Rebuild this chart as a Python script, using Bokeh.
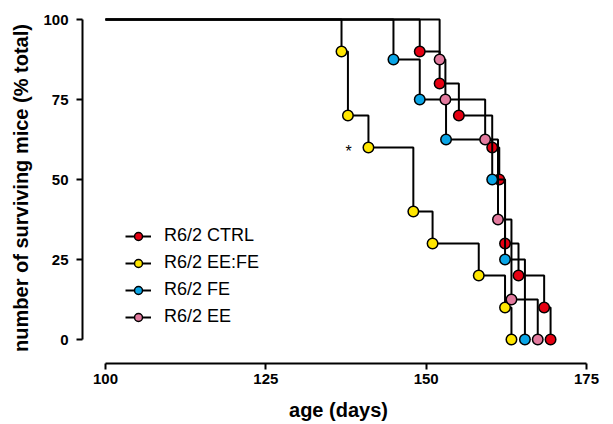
from bokeh.plotting import figure
from bokeh.models import Range1d, Legend, LegendItem, FixedTicker
from bokeh.embed import file_html
from bokeh.resources import INLINE
from bokeh.core.properties import value

# ---- data (age in days, survival in % of total) ----
start_day = 100
start_surv = 100

ctrl_days = [149.0, 152.1, 155.1, 160.3, 161.4, 162.3, 164.4, 168.4, 169.4]
ctrl_surv = [90, 80, 70, 60, 50, 30, 20, 10, 0]

eefe_days = [136.8, 137.8, 141.0, 148.0, 151.0, 158.2, 162.3, 163.3]
eefe_surv = [90, 70, 60, 40, 30, 20, 10, 0]

fe_days = [144.9, 149.0, 153.1, 160.3, 162.3, 165.4]
fe_surv = [87.5, 75, 62.5, 50, 25, 0]

ee_days = [152.1, 153.0, 159.2, 161.2, 163.3, 167.4]
ee_surv = [87.5, 75, 62.5, 37.5, 12.5, 0]

series_names = ["R6/2 CTRL", "R6/2 EE:FE", "R6/2 FE", "R6/2 EE"]
series_colors = ["#E60012", "#FFE600", "#0AA5E6", "#E27A9E"]

star_x = [137.9]
star_y = [60]
star_text = ["*"]

x_ticks = [100, 125, 150, 175]
y_ticks = [0, 25, 50, 75, 100]

FONT = "Liberation Sans"

p = figure(width=605, height=423, output_backend="svg", toolbar_location=None,
           x_range=Range1d(96.41, 176.25), y_range=Range1d(-7.5, 102.2),
           min_border_left=82, min_border_right=11, min_border_top=12, min_border_bottom=60)
p.outline_line_color = None
p.xgrid.visible = False
p.ygrid.visible = False
p.background_fill_color = "white"

data = [(ctrl_days, ctrl_surv), (eefe_days, eefe_surv), (fe_days, fe_surv), (ee_days, ee_surv)]
items = []
for (days, surv), name, col in zip(data, series_names, series_colors):
    xs = [start_day] + days
    ys = [start_surv] + surv
    lr = p.step(xs, ys, mode="after", line_color="black", line_width=2)
    sr = p.scatter(days, surv, size=10.5, fill_color=col, line_color="black", line_width=1.5)
    items.append(LegendItem(label=name, renderers=[lr, sr]))

p.text(x=star_x, y=star_y, text=star_text, text_align="center", text_baseline="middle",
       text_font=value(FONT), text_font_size="16px", text_color="black", y_offset=4)

legend = Legend(items=items, location=(43, 36), orientation="vertical",
                glyph_width=26, glyph_height=20, label_height=20, spacing=6,
                label_standoff=13, padding=0, margin=0,
                border_line_color=None, background_fill_alpha=0,
                label_text_font=FONT, label_text_font_size="18px", label_text_color="black")
p.add_layout(legend, "center")

for ax in (p.xaxis[0], p.yaxis[0]):
    ax.axis_line_width = 2
    ax.axis_line_color = "black"
    ax.major_tick_line_width = 2
    ax.major_tick_line_color = "black"
    ax.major_tick_out = 6
    ax.major_tick_in = 0
    ax.minor_tick_line_color = None
    ax.major_label_text_font = FONT
    ax.major_label_text_font_style = "bold"
    ax.major_label_text_font_size = "15px"
    ax.major_label_text_color = "black"
    ax.axis_label_text_font = FONT
    ax.axis_label_text_font_style = "bold"
    ax.axis_label_text_font_size = "20px"
    ax.axis_label_text_color = "black"

p.xaxis[0].bounds = (100, 175)
p.yaxis[0].bounds = (0, 100)
p.xaxis[0].ticker = FixedTicker(ticks=x_ticks)
p.yaxis[0].ticker = FixedTicker(ticks=y_ticks)
p.xaxis[0].axis_label = "age (days)"
p.yaxis[0].axis_label = "number of surviving mice (% total)"
p.xaxis[0].major_label_standoff = 4
p.xaxis[0].axis_label_standoff = 12
p.yaxis[0].major_label_standoff = 8
p.yaxis[0].axis_label_standoff = 8
p.yaxis[0].major_label_orientation = "horizontal"

open("out.html", "w").write(file_html(p, INLINE))
